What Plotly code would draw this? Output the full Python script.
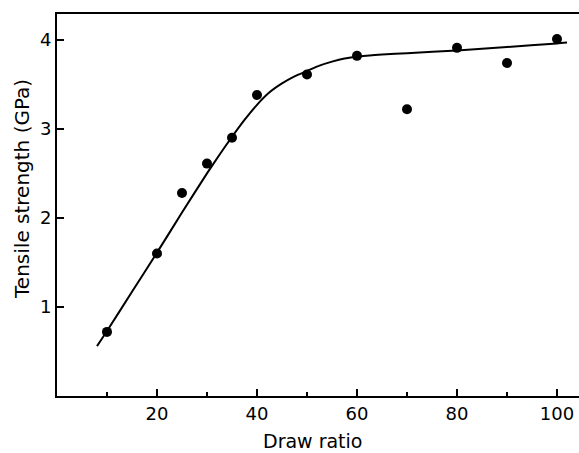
import plotly.graph_objects as go

# Measured data points
draw_ratio = [10, 20, 25, 30, 35, 40, 50, 60, 70, 80, 90, 100]
strength = [0.72, 1.60, 2.28, 2.61, 2.90, 3.38, 3.61, 3.82, 3.22, 3.91, 3.74, 4.01]

# Fitted curve
curve_x = [8, 10, 15, 20, 25, 30, 32.5, 35, 37.5, 40, 42.5, 45, 47.5, 50, 52.5, 55, 57.5, 60, 62.5, 65, 70, 80, 90, 100, 102]
curve_y = [0.56, 0.73, 1.17, 1.61, 2.06, 2.50, 2.71, 2.91, 3.10, 3.27, 3.41, 3.51, 3.59, 3.65, 3.71, 3.755, 3.79, 3.81, 3.825, 3.835, 3.85, 3.88, 3.92, 3.96, 3.97]

x_ticks = [20, 40, 60, 80, 100]
y_ticks = [1, 2, 3, 4]

x_title = "Draw ratio"
y_title = "Tensile strength (GPa)"

FONT = "DejaVu Sans"

fig = go.Figure()
fig.add_trace(go.Scatter(
    x=curve_x, y=curve_y, mode="lines",
    line=dict(color="black", width=2, shape="spline", smoothing=0.6),
    hoverinfo="skip", showlegend=False,
))
fig.add_trace(go.Scatter(
    x=draw_ratio, y=strength, mode="markers",
    marker=dict(color="black", size=10),
    showlegend=False,
))

fig.update_layout(
    width=579, height=453,
    margin=dict(l=57, r=0, t=14, b=57, autoexpand=False),
    plot_bgcolor="white", paper_bgcolor="white",
    font=dict(family=FONT, color="black", size=17),
    annotations=[
        dict(text=x_title, xref="paper", yref="paper", x=0.5, y=0,
             xanchor="center", yanchor="middle", yshift=-45, xshift=-6,
             showarrow=False, font=dict(size=19, family=FONT)),
        dict(text=y_title, xref="paper", yref="paper", x=0, y=0.542,
             xanchor="center", yanchor="middle", xshift=-35, textangle=-90,
             showarrow=False, font=dict(size=20, family=FONT)),
    ],
)
fig.update_xaxes(
    range=[0, 104.4], automargin=False,
    tickvals=x_ticks,
    ticks="inside", ticklen=7, tickwidth=1.5, tickcolor="black",
    minor=dict(tick0=0, dtick=10, ticks="inside", ticklen=4, tickcolor="black", tickwidth=1.5),
    showline=True, linecolor="black", linewidth=2, mirror=True,
    showgrid=False, zeroline=False,
    tickfont=dict(size=18, family=FONT),
)
fig.update_yaxes(
    range=[0, 4.29], automargin=False,
    tickvals=y_ticks,
    ticks="inside", ticklen=7, tickwidth=1.5, tickcolor="black",
    showline=True, linecolor="black", linewidth=2, mirror=False,
    showgrid=False, zeroline=False,
    tickfont=dict(size=18, family=FONT),
)

fig.write_html("out.html", config={"displayModeBar": False},
               post_script="document.body.style.margin='0px';")
